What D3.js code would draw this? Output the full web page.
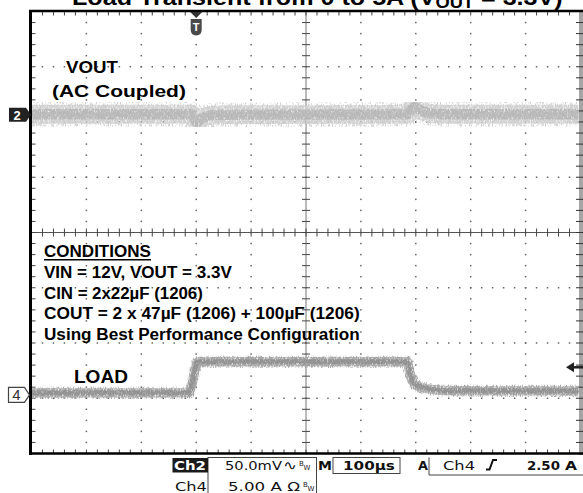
<!DOCTYPE html>
<html><head><meta charset="utf-8">
<script src="https://cdn.jsdelivr.net/npm/d3@7"></script>
<style>html,body{margin:0;padding:0;background:#fff;overflow:hidden}</style>
</head><body><svg id="scope" width="583" height="493"></svg>
<script>
// ---- Channel 2: output voltage, AC coupled (mV) vs time from trigger (µs)
const voutTime = [-300, -8, -3, 1, 6, 15, 35, 385, 391, 398, 405, 420, 445, 700];
const voutMv   = [0.5, 0.5, -3, -6.5, -5, -2, 0, 0.5, 4.5, 7, 5, 2, 0.5, 0.5];
const voutNoiseMv = 17;            // peak-to-peak noise band

// ---- Channel 4: load current (A) vs time from trigger (µs)
const loadTime = [-300, -14, -9, -5, -1, 2, 8, 384, 388, 393, 400, 418, 437, 470, 700];
const loadAmps = [0.18, 0.2, 0.7, 1.6, 2.6, 2.95, 3.0, 3.0, 2.3, 1.4, 0.9, 0.6, 0.45, 0.38, 0.36];
const loadNoiseA = 0.85;

// ---- Scope settings
const timePerDiv = 100;   // µs
const ch2PerDiv = 50;     // mV
const ch4PerDiv = 5;      // A
const triggerLevel = 2.5; // A
const triggerDiv = 3;     // divisions from left edge
const ch2OffsetDiv = 2.13;
const ch4OffsetDiv = -2.94;

// ---- Text
const titleMain = "Load Transient from 0 to 5A (V";
const titleSub = "OUT";
const titleEnd = " = 3.3V)";
const conditionLines = [
  "VIN = 12V, VOUT = 3.3V",
  "CIN = 2x22µF (1206)",
  "COUT = 2 x 47µF (1206) + 100µF (1206)",
  "Using Best Performance Configuration"
];
const conditionWidths = [188, 159, 316, 316];

const svg = d3.select("#scope");
const W = 583, H = 493;
const box = {left: 31.5, right: 580.5, top: 11.5, bottom: 453.5};
const xDiv = d3.scaleLinear([0, 10], [box.left, box.right]);
const yDiv = d3.scaleLinear([0, 8], [box.top, box.bottom]);

const t = d3.scaleLinear([-triggerDiv * timePerDiv, (10 - triggerDiv) * timePerDiv], [box.left, box.right]);
const v = d3.scaleLinear([0, ch2PerDiv], [yDiv(4 - ch2OffsetDiv), yDiv(3 - ch2OffsetDiv)]);
const a = d3.scaleLinear([0, ch4PerDiv], [yDiv(4 - ch4OffsetDiv), yDiv(3 - ch4OffsetDiv)]);

const defs = svg.append("defs");
const clip = defs.append("clipPath").attr("id", "screen");
clip.append("rect").attr("x", box.left).attr("y", box.top).attr("width", box.right - box.left - 2).attr("height", box.bottom - box.top);

// fine grain for the noisy traces
function grain(id, freq, seed, gain, bias) {
  const f = defs.append("filter").attr("id", id).attr("x", "-5%").attr("y", "-30%").attr("width", "110%").attr("height", "160%");
  f.append("feTurbulence").attr("type", "fractalNoise").attr("baseFrequency", freq).attr("numOctaves", 2).attr("seed", seed).attr("result", "noise");
  f.append("feColorMatrix").attr("in", "noise").attr("type", "matrix")
    .attr("values", `0 0 0 0 0  0 0 0 0 0  0 0 0 0 0  ${gain} 0 0 0 ${bias}`).attr("result", "mask");
  f.append("feComposite").attr("in", "SourceGraphic").attr("in2", "mask").attr("operator", "in");
}
grain("grain", "1.3 0.35", 11, 2.4, -0.35);
grain("fuzz", "1.6 0.25", 5, 4, -1.9);

svg.append("rect").attr("width", W).attr("height", H).attr("fill", "#fff");

// ---- Graticule
const g = svg.append("g");
const minorX = d3.range(0, 50.001, 1).map(i => i / 5);
const minorY = d3.range(0, 40.001, 1).map(i => i / 5);

// dotted division lines
for (let k = 1; k < 10; k++) {
  if (k === 5) continue;
  g.selectAll(null).data(minorY.slice(1, -1)).join("rect")
    .attr("x", xDiv(k) - 0.75).attr("y", d => yDiv(d) - 0.75).attr("width", 1.5).attr("height", 1.5).attr("fill", "#666");
}
for (let k = 1; k < 8; k++) {
  if (k === 4) continue;
  g.selectAll(null).data(minorX.slice(1, -1)).join("rect")
    .attr("x", d => xDiv(d) - 0.75).attr("y", yDiv(k) - 0.75).attr("width", 1.5).attr("height", 1.5).attr("fill", "#666");
}
// centre axes
g.append("line").attr("x1", box.left).attr("x2", box.right).attr("y1", yDiv(4)).attr("y2", yDiv(4)).attr("stroke", "#555").attr("stroke-width", 1);
g.append("line").attr("x1", xDiv(5)).attr("x2", xDiv(5)).attr("y1", box.top).attr("y2", box.bottom).attr("stroke", "#777").attr("stroke-width", 1);
g.selectAll(null).data(minorX).join("line")
  .attr("x1", d => xDiv(d)).attr("x2", d => xDiv(d)).attr("y1", yDiv(4) - 4).attr("y2", yDiv(4) + 4).attr("stroke", "#444").attr("stroke-width", 1);
g.selectAll(null).data(minorY).join("line")
  .attr("y1", d => yDiv(d)).attr("y2", d => yDiv(d)).attr("x1", xDiv(5) - 4).attr("x2", xDiv(5) + 4).attr("stroke", "#444").attr("stroke-width", 1);
// border ticks
g.selectAll(null).data(minorX).join("line")
  .attr("x1", d => xDiv(d)).attr("x2", d => xDiv(d)).attr("y1", box.top).attr("y2", box.top + 4).attr("stroke", "#444");
g.selectAll(null).data(minorX).join("line")
  .attr("x1", d => xDiv(d)).attr("x2", d => xDiv(d)).attr("y1", box.bottom - 4).attr("y2", box.bottom).attr("stroke", "#444");
g.selectAll(null).data(minorY).join("line")
  .attr("y1", d => yDiv(d)).attr("y2", d => yDiv(d)).attr("x1", box.left).attr("x2", box.left + 4).attr("stroke", "#444");

// right edge strip
g.append("rect").attr("x", 579).attr("y", 10).attr("width", 4).attr("height", 445).attr("fill", "#a5a5a5");
g.selectAll(null).data(minorY).join("line")
  .attr("y1", d => yDiv(d)).attr("y2", d => yDiv(d)).attr("x1", 576).attr("x2", 583).attr("stroke", "#333");

// ---- Traces
const screen = svg.append("g").attr("clip-path", "url(#screen)");
function trace(times, vals, scale, noise, outer, inner) {
  const pts = times.map((d, i) => [d, vals[i]]);
  const line = d3.line().x(d => t(d[0])).y(d => scale(d[1])).curve(d3.curveMonotoneX);
  const w = Math.abs(scale(noise) - scale(0));
  const path = (width, color, filter, op) => screen.append("path").attr("d", line(pts)).attr("fill", "none")
    .attr("stroke", color).attr("stroke-width", width).attr("stroke-linejoin", "round")
    .attr("filter", filter ? `url(#${filter})` : null).attr("stroke-opacity", op || 1);
  path(w * 1.3, outer, "fuzz");
  path(w, outer, "grain");
  path(w * 0.55, inner, "grain");
  path(Math.max(1.5, w * 0.25), inner, null, 0.5);
}
trace(voutTime, voutMv, v, voutNoiseMv, "#d0d0d0", "#b8b8b8");
trace(loadTime, loadAmps, a, loadNoiseA, "#a6a6a6", "#929292");

// ---- Frame
svg.append("line").attr("x1", 30.5).attr("x2", 30.5).attr("y1", 10).attr("y2", 455).attr("stroke", "#000").attr("stroke-width", 3);
svg.append("line").attr("x1", 29).attr("x2", 583).attr("y1", 11).attr("y2", 11).attr("stroke", "#000").attr("stroke-width", 2.5);
svg.append("line").attr("x1", 29).attr("x2", 583).attr("y1", 453.5).attr("y2", 453.5).attr("stroke", "#000").attr("stroke-width", 2.5);

// ---- Markers
const tx = t(0);
svg.append("path").attr("d", `M${tx - 6},12 L${tx + 6},12 L${tx},18 Z`).attr("fill", "#333");
svg.append("path").attr("d", `M${tx - 5.5},19 H${tx + 5.5} V30 Q${tx + 5.5},35 ${tx},35.5 Q${tx - 5.5},35 ${tx - 5.5},30 Z`).attr("fill", "#4a4a4a");
svg.append("text").attr("x", tx).attr("y", 31).attr("text-anchor", "middle").attr("font-family", "Liberation Sans, Arial, sans-serif")
  .attr("font-weight", "bold").attr("font-size", 11).attr("fill", "#fff").text("T");

const y2 = v(0);
svg.append("path").attr("d", `M9,${y2 - 7} H26 L31,${y2} L26,${y2 + 7} H9 Z`).attr("fill", "#222");
svg.append("text").attr("x", 17).attr("y", y2 + 5).attr("text-anchor", "middle").attr("font-family", "Liberation Sans, Arial, sans-serif")
  .attr("font-weight", "bold").attr("font-size", 13).attr("fill", "#fff").text("2");
const y4 = a(0);
svg.append("path").attr("d", `M8.5,${y4 - 7.5} H24.5 L29.5,${y4} L24.5,${y4 + 7.5} H8.5 Z`).attr("fill", "#fff").attr("stroke", "#444").attr("stroke-width", 1.2);
svg.append("text").attr("x", 16.5).attr("y", y4 + 5.5).attr("text-anchor", "middle").attr("font-family", "Liberation Sans, Arial, sans-serif")
  .attr("font-size", 15).attr("fill", "#333").text("4");

const yt = a(triggerLevel);
svg.append("path").attr("d", `M566,${yt} L574,${yt - 5} L574,${yt + 5} Z`).attr("fill", "#222");
svg.append("line").attr("x1", 572).attr("x2", 583).attr("y1", yt).attr("y2", yt).attr("stroke", "#222").attr("stroke-width", 2.5);

// ---- Labels
function fit(sel, width) {
  const w = sel.node().getComputedTextLength();
  const x = +sel.attr("x");
  sel.attr("transform", `translate(${x},0) scale(${width / w},1) translate(${-x},0)`);
  return sel;
}
const sans = "Liberation Sans, Arial, Helvetica, sans-serif";

const title = svg.append("text").attr("x", 72).attr("y", 5).attr("font-family", sans).attr("font-weight", "bold").attr("font-size", 22).attr("fill", "#000");
title.append("tspan").text(titleMain);
title.append("tspan").attr("dy", 3).attr("font-size", 16).text(titleSub);
title.append("tspan").attr("dy", -3).text(titleEnd);
fit(title, 491);

const lab = (x, y, s, size, width) => {
  const e = svg.append("text").attr("x", x).attr("y", y).attr("font-family", sans).attr("font-weight", "bold")
    .attr("font-size", size).attr("fill", "#000").text(s);
  if (width) fit(e, width);
  return e;
};
lab(66, 73, "VOUT", 16.5, 52);
lab(52, 97, "(AC Coupled)", 16.5, 134);
lab(74, 383, "LOAD", 17.5, 54);

lab(44, 257, "CONDITIONS", 16, 107);
svg.append("line").attr("x1", 44).attr("x2", 151).attr("y1", 259.8).attr("y2", 259.8).attr("stroke", "#000").attr("stroke-width", 1.4);
conditionLines.forEach((s, i) => lab(44, 278 + i * 20.7, s, 16, conditionWidths[i]));

// ---- Status readout
const mono = "DejaVu Sans, Verdana, sans-serif";
const st = (x, y, s, width, opts = {}) => {
  const e = svg.append("text").attr("x", x).attr("y", y).attr("font-family", mono).attr("font-size", 13)
    .attr("font-weight", opts.bold ? "bold" : "normal").attr("fill", opts.fill || "#111").text(s);
  if (width) fit(e, width);
  return e;
};
svg.append("rect").attr("x", 208).attr("y", 457.5).attr("width", 108.5).attr("height", 40).attr("fill", "none").attr("stroke", "#444");
svg.append("rect").attr("x", 172.5).attr("y", 458).attr("width", 35.5).attr("height", 14.5).attr("fill", "#1a1a1a");
st(174, 470.5, "Ch2", 32, {bold: true, fill: "#fff"});
st(225, 470.5, "50.0mV", 57);
st(283, 470.5, "∿", 14);
const bw = (x, y) => {
  svg.append("text").attr("x", x).attr("y", y).attr("font-family", mono).attr("font-size", 7).attr("fill", "#222").text("B");
  svg.append("text").attr("x", x + 4.5).attr("y", y + 4).attr("font-family", mono).attr("font-size", 7).attr("fill", "#222").text("W");
};
bw(299, 466);
st(318, 470.5, "M", 14, {bold: true});
svg.append("rect").attr("x", 333).attr("y", 457.5).attr("width", 67).attr("height", 16).attr("fill", "none").attr("stroke", "#444");
st(343, 470.5, "100µs", 52, {bold: true});
st(418, 470.5, "A", 10, {bold: true});
svg.append("path").attr("d", "M429,457.5 V475 H583").attr("fill", "none").attr("stroke", "#444");
st(443, 470.5, "Ch4", 32);
svg.append("path").attr("d", "M486,469.5 H489.5 L493,460 H497").attr("fill", "none").attr("stroke", "#111").attr("stroke-width", 2);
st(527, 470.5, "2.50", 33, {bold: true});
st(565, 470.5, "A", 12, {bold: true});
st(175, 491, "Ch4", 32);
st(228, 491, "5.00 A Ω", 72);
bw(303, 487);
</script></body></html>
